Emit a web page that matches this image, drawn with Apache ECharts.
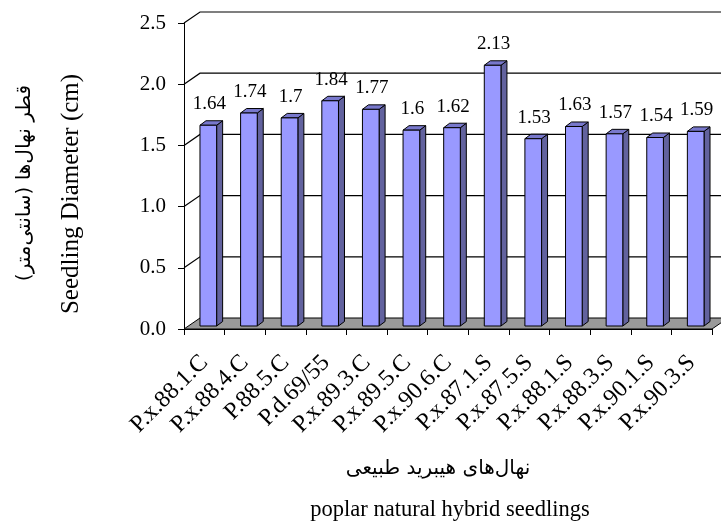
<!DOCTYPE html>
<html>
<head>
<meta charset="utf-8">
<script src="https://cdn.jsdelivr.net/npm/echarts@6/dist/echarts.min.js"></script>
<style>
html,body{margin:0;padding:0;background:#fff;}
#chart{width:721px;height:523px;}
</style>
</head>
<body>
<div id="chart"></div>
<script>
// ---- data ----
var categories = ['P.x.88.1.C','P.x.88.4.C','P.88.5.C','P.d.69/55','P.x.89.3.C','P.x.89.5.C','P.x.90.6.C','P.x.87.1.S','P.x.87.5.S','P.x.88.1.S','P.x.88.3.S','P.x.90.1.S','P.x.90.3.S'];
var diameters = [1.64, 1.74, 1.7, 1.84, 1.77, 1.6, 1.62, 2.13, 1.53, 1.63, 1.57, 1.54, 1.59];
var yTicks = [0, 0.5, 1.0, 1.5, 2.0, 2.5];
var yTitleFa = '\u200Fقطر نهال\u200Cها (سانتی\u200Cمتر)\u200F';
var yTitleEn = 'Seedling Diameter (cm)';
var xTitleFa = '\u200Fنهال\u200Cهای هیبرید طبیعی\u200F';
var xTitleEn = 'poplar natural hybrid seedlings';

// ---- styling / 3D offsets ----
var SERIF = '"Liberation Serif","Times New Roman",serif';
var WALL_DX = 16, WALL_DY = -11;      // depth of the whole box
var BAR_DX = 4, BAR_DY = -3;          // bar plane inside the box
var BAR_W_RATIO = 0.41;               // bar face width / category width
var BAR_DEPTH_X = 6, BAR_DEPTH_Y = -4.5;

var chart = echarts.init(document.getElementById('chart'), null, {renderer: 'canvas'});

function renderWall(params, api) {
  var v = api.value(1);
  var p = api.coord([0, v]);
  var bw = api.size([1, 0])[0];
  var L = p[0] - bw / 2;
  var R = L + bw * categories.length;
  var y = p[1];
  var children = [];
  if (v === 0) {
    children.push({
      type: 'polygon',
      shape: {points: [[L, y], [R, y], [R + WALL_DX, y + WALL_DY], [L + WALL_DX, y + WALL_DY]]},
      style: {fill: '#9a9a9a', stroke: '#000', lineWidth: 1}
    });
  } else {
    children.push({
      type: 'polyline',
      shape: {points: [[L, y], [L + WALL_DX, y + WALL_DY], [R + WALL_DX, y + WALL_DY]]},
      style: {fill: null, stroke: '#000', lineWidth: 1.2}
    });
  }
  return {type: 'group', children: children};
}

function renderBar(params, api) {
  var i = api.value(0);
  var v = api.value(1);
  var base = api.coord([i, 0]);
  var top = api.coord([i, v]);
  var bw = api.size([1, 0])[0];
  var w = bw * BAR_W_RATIO;
  var cx = base[0] + BAR_DX;
  var xl = cx - w / 2, xr = cx + w / 2;
  var yb = base[1] + BAR_DY, yt = top[1] + BAR_DY;
  var dx = BAR_DEPTH_X, dy = BAR_DEPTH_Y;
  return {
    type: 'group',
    children: [
      {type: 'polygon', shape: {points: [[xr, yt], [xr + dx, yt + dy], [xr + dx, yb + dy], [xr, yb]]},
        style: {fill: '#62629e', stroke: '#000', lineWidth: 1}},
      {type: 'polygon', shape: {points: [[xl, yt], [xr, yt], [xr + dx, yt + dy], [xl + dx, yt + dy]]},
        style: {fill: '#7878cc', stroke: '#000', lineWidth: 1}},
      {type: 'rect', shape: {x: xl, y: yt, width: w, height: yb - yt},
        style: {fill: '#9999ff', stroke: '#000', lineWidth: 1}},
      {type: 'text', x: cx + 1, y: yt + dy - 7,
        style: {text: String(v), textAlign: 'center', textVerticalAlign: 'bottom',
          font: '19px ' + SERIF, fill: '#000'}}
    ]
  };
}

var option = {
  animation: false,
  backgroundColor: '#fff',
  grid: {left: 184, top: 23, right: 9, bottom: 194, containLabel: false},
  xAxis: {
    type: 'category',
    data: categories,
    boundaryGap: true,
    axisLine: {show: true, lineStyle: {color: '#000', width: 1}},
    axisTick: {show: true, length: 6, interval: 0, alignWithLabel: false, lineStyle: {color: '#000'}},
    axisLabel: {interval: 0, rotate: 45, margin: 30, color: '#000', fontFamily: SERIF, fontSize: 24},
    splitLine: {show: false}
  },
  yAxis: {
    type: 'value',
    min: 0, max: 2.5, interval: 0.5,
    axisLine: {show: true, lineStyle: {color: '#000', width: 1}},
    axisTick: {show: true, length: 6, lineStyle: {color: '#000'}},
    axisLabel: {margin: 18, color: '#000', fontFamily: SERIF, fontSize: 21,
      formatter: function (v) { return v.toFixed(1); }},
    splitLine: {show: false}
  },
  series: [
    {
      type: 'custom', name: 'walls', z: 1,
      renderItem: renderWall,
      encode: {x: 0, y: 1},
      data: yTicks.map(function (v) { return [0, v]; })
    },
    {
      type: 'custom', name: 'bars', z: 3,
      renderItem: renderBar,
      encode: {x: 0, y: 1},
      data: diameters.map(function (v, i) { return [i, v]; })
    }
  ],
  graphic: [
    {type: 'text', x: 25, y: 183, rotation: Math.PI / 2,
      style: {text: yTitleFa, textAlign: 'center', textVerticalAlign: 'middle',
        font: '20px "DejaVu Sans",sans-serif', fill: '#000'}},
    {type: 'text', x: 71, y: 194, rotation: Math.PI / 2,
      style: {text: yTitleEn, textAlign: 'center', textVerticalAlign: 'middle',
        font: '25px ' + SERIF, fill: '#000'}},
    {type: 'text', x: 438, y: 469,
      style: {text: xTitleFa, textAlign: 'center', textVerticalAlign: 'middle',
        font: '20px "DejaVu Sans",sans-serif', fill: '#000'}},
    {type: 'text', x: 450, y: 510,
      style: {text: xTitleEn, textAlign: 'center', textVerticalAlign: 'middle',
        font: '22.5px ' + SERIF, fill: '#000'}}
  ]
};
chart.setOption(option);
</script>
</body>
</html>
